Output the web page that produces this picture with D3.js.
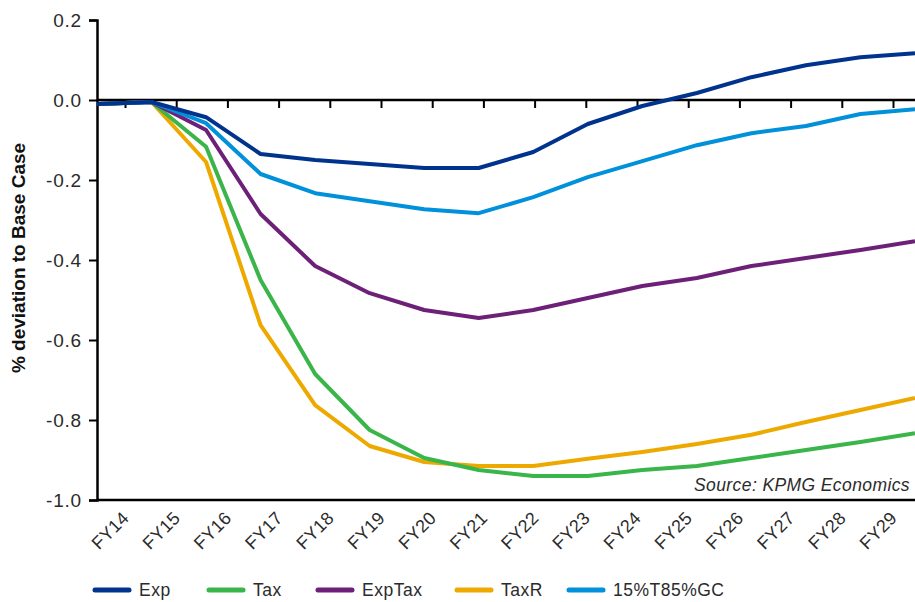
<!DOCTYPE html>
<html>
<head>
<meta charset="utf-8">
<script src="https://cdn.jsdelivr.net/npm/d3@7/dist/d3.min.js"></script>
<style>
  html, body { margin: 0; padding: 0; background: #fff; }
  svg { display: block; font-family: "Liberation Sans", Arial, sans-serif; }
</style>
</head>
<body>
<svg id="chart" width="915" height="602"></svg>
<script>
// Fiscal years on the horizontal axis
const years = ["FY14","FY15","FY16","FY17","FY18","FY19","FY20","FY21","FY22","FY23","FY24","FY25","FY26","FY27","FY28","FY29"];

// % deviation to base case for each scenario
const expValues    = [-0.01,-0.005,-0.043,-0.135,-0.15,-0.16,-0.17,-0.17,-0.13,-0.06,-0.015,0.0175,0.057,0.087,0.107,0.117];
const taxValues    = [-0.01,-0.005,-0.117,-0.45,-0.685,-0.825,-0.895,-0.925,-0.94,-0.94,-0.925,-0.915,-0.895,-0.875,-0.855,-0.833];
const expTaxValues = [-0.01,-0.005,-0.075,-0.285,-0.415,-0.483,-0.525,-0.545,-0.525,-0.495,-0.465,-0.445,-0.415,-0.395,-0.375,-0.353];
const taxRValues   = [-0.01,-0.005,-0.155,-0.563,-0.763,-0.865,-0.905,-0.915,-0.915,-0.897,-0.88,-0.86,-0.837,-0.805,-0.775,-0.745];
const gcValues     = [-0.01,-0.005,-0.058,-0.185,-0.233,-0.253,-0.273,-0.283,-0.243,-0.193,-0.153,-0.113,-0.083,-0.065,-0.035,-0.023];

const seriesNames  = ["Exp","Tax","ExpTax","TaxR","15%T85%GC"];
const seriesColors = ["#00338D","#3AB54A","#6D2077","#EDA900","#0091DA"];
const seriesValues = [expValues, taxValues, expTaxValues, taxRValues, gcValues];

const yTicks = [0.2, 0.0, -0.2, -0.4, -0.6, -0.8, -1.0];

const svg = d3.select("#chart");

// Plot frame
const plotLeft = 97, plotRight = 915, plotTop = 20, plotBottom = 500;

const y = d3.scaleLinear().domain([-1.0, 0.2]).range([plotBottom, plotTop]);
// line vertices span the full plot width
const xLine = d3.scalePoint().domain(years).range([plotLeft, plotRight]);
// category ticks / labels
const xTick = d3.scalePoint().domain(years).range([125, 893]);

const textColor = "#2b2b2b";

// Y axis
const yAxis = d3.axisLeft(y).tickValues(yTicks).tickSizeOuter(0).tickSize(8).tickPadding(7);
const gy = svg.append("g").attr("transform", `translate(${plotLeft},0)`).call(yAxis);
gy.select(".domain").attr("stroke", "#000").attr("stroke-width", 2.5);
gy.selectAll(".tick line").attr("stroke", "#000").attr("stroke-width", 2);
gy.selectAll(".tick text").attr("fill", textColor).attr("font-size", 19)
  .attr("letter-spacing", 0.8)
  .text(d => d.toFixed(1).replace("-0.0", "0.0"));

// Zero line with downward category ticks
const gz = svg.append("g").attr("transform", `translate(0,${y(0)})`)
  .call(d3.axisBottom(xTick).tickSize(8).tickSizeOuter(0).tickFormat(""));
gz.select(".domain").remove();
gz.selectAll(".tick line").attr("stroke", "#000").attr("stroke-width", 2);
svg.append("line").attr("x1", plotLeft).attr("x2", plotRight).attr("y1", y(0)).attr("y2", y(0))
  .attr("stroke", "#000").attr("stroke-width", 2.5);

// Bottom baseline
svg.append("line").attr("x1", plotLeft).attr("x2", plotRight).attr("y1", plotBottom).attr("y2", plotBottom)
  .attr("stroke", "#000").attr("stroke-width", 2.5);

// Rotated category labels
svg.append("g").selectAll("text").data(years).join("text")
  .attr("transform", d => `translate(${xTick(d) - 4},${plotBottom + 10}) rotate(-45)`)
  .attr("text-anchor", "end")
  .attr("dy", "0.72em")
  .attr("font-size", 18)
  .attr("letter-spacing", 0.3)
  .attr("fill", textColor)
  .text(d => d);

// Y axis title
svg.append("text")
  .attr("transform", `translate(25,258) rotate(-90)`)
  .attr("text-anchor", "middle")
  .attr("font-size", 19)
  .attr("font-weight", "bold")
  .attr("fill", "#111")
  .text("% deviation to Base Case");

// Source note
svg.append("text")
  .attr("x", 910).attr("y", 491)
  .attr("text-anchor", "end")
  .attr("font-size", 17.5)
  .attr("letter-spacing", 0.4)
  .attr("font-style", "italic")
  .attr("fill", textColor)
  .text("Source: KPMG Economics");

// Series lines (drawn so Exp sits on top)
const line = d3.line().x((d, i) => xLine(years[i])).y(d => y(d));
const drawOrder = [3, 1, 2, 4, 0];
svg.append("g").selectAll("path").data(drawOrder).join("path")
  .attr("d", k => line(seriesValues[k]))
  .attr("fill", "none")
  .attr("stroke", k => seriesColors[k])
  .attr("stroke-width", 4)
  .attr("stroke-linejoin", "round");

// Legend
const legendX = [93, 207, 316, 455, 567];
const lg = svg.append("g").selectAll("g").data(seriesNames).join("g")
  .attr("transform", (d, i) => `translate(${legendX[i]},590)`);
lg.append("line").attr("x1", 2).attr("x2", 36).attr("y1", 0).attr("y2", 0)
  .attr("stroke", (d, i) => seriesColors[i]).attr("stroke-width", 5).attr("stroke-linecap", "round");
lg.append("text").attr("x", 46).attr("y", 0).attr("dy", "0.36em")
  .attr("font-size", 17.5).attr("letter-spacing", 0.5).attr("fill", textColor)
  .text(d => d);
</script>
</body>
</html>
